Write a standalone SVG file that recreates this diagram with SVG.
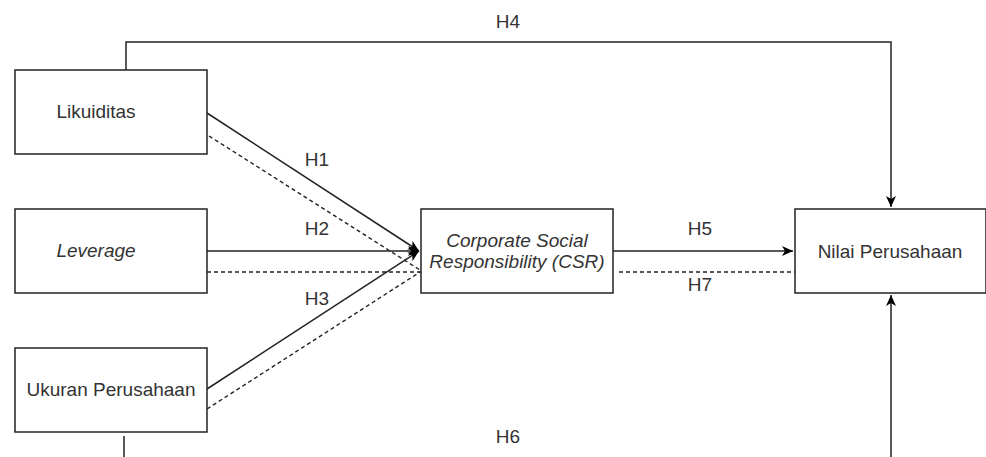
<svg xmlns="http://www.w3.org/2000/svg" width="986" height="457" viewBox="0 0 986 457">
<defs>
<marker id="arr" markerUnits="userSpaceOnUse" markerWidth="13" markerHeight="11" refX="11" refY="5" orient="auto">
<path d="M0,0 L11,5 L0,10 L3,5 Z" fill="#000"/>
</marker>
<style>
.box{fill:#fff;stroke:#222;stroke-width:1.5}
.t{font-family:"Liberation Sans",Arial,sans-serif;font-size:19px;fill:#333;text-anchor:middle}
.it{font-style:italic}
.s{fill:none;stroke:#222;stroke-width:1.5}
.d{fill:none;stroke:#222;stroke-width:1.4;stroke-dasharray:4,3}
</style>
</defs>
<rect width="986" height="457" fill="#fff"/>
<g id="connectors">
<path class="s" d="M126,70 V42 H891 V207" marker-end="url(#arr)"/>
<path class="s" d="M891,457 V295" marker-end="url(#arr)"/>
<path class="s" d="M124,436 V457"/>
<path class="s" d="M207,113 L419,251" marker-end="url(#arr)"/>
<path class="s" d="M207,251 H419" marker-end="url(#arr)"/>
<path class="s" d="M207,389 L419,251" marker-end="url(#arr)"/>
<path class="d" d="M209,136 L420,270"/>
<path class="d" d="M207,272 H421"/>
<path class="d" d="M207,409 L420,272"/>
<path class="s" d="M613,251 H793" marker-end="url(#arr)"/>
<path class="d" d="M619,272 H795"/>
<text class="t" x="317" y="166">H1</text>
<text class="t" x="317" y="235">H2</text>
<text class="t" x="317" y="305">H3</text>
<text class="t" x="508" y="28">H4</text>
<text class="t" x="700" y="235">H5</text>
<text class="t" x="508" y="443">H6</text>
<text class="t" x="700" y="291">H7</text>
</g>
<g id="likuiditas">
<rect class="box" x="15" y="70" width="192" height="84"/>
<text class="t" x="96" y="118">Likuiditas</text>
</g>
<g id="leverage">
<rect class="box" x="15" y="209" width="192" height="84"/>
<text class="t it" x="96" y="257">Leverage</text>
</g>
<g id="ukuran">
<rect class="box" x="15" y="348" width="192" height="84"/>
<text class="t" x="111" y="396">Ukuran Perusahaan</text>
</g>
<g id="csr">
<rect class="box" x="421" y="209" width="192" height="84"/>
<text class="t it" x="517" y="247">Corporate Social</text>
<text class="t it" x="517" y="268">Responsibility (CSR)</text>
</g>
<g id="nilai">
<rect class="box" x="795" y="209" width="191" height="84"/>
<text class="t" x="890" y="258">Nilai Perusahaan</text>
</g>
</svg>
